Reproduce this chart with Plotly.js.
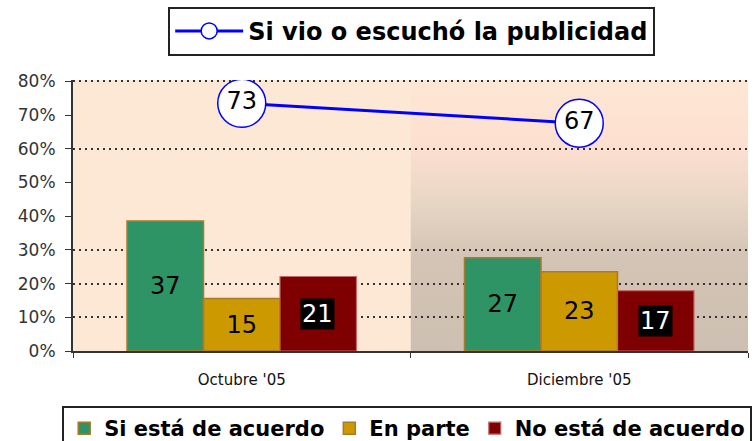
<!DOCTYPE html>
<html><head><meta charset="utf-8">
<script src="https://cdn.plot.ly/plotly-3.0.1.min.js"></script>
<style>html,body{margin:0;padding:0;background:#fff;}#chart{width:753px;height:441px;}</style>
</head><body><div id="chart"></div>
<script>
var categories = ["Octubre '05", "Diciembre '05"];
var siAcuerdo = [38.6, 27.7];
var siAcuerdoLabels = ["37", "27"];
var enParte = [15.6, 23.5];
var enParteLabels = ["15", "23"];
var noAcuerdo = [22.1, 17.9];
var noAcuerdoLabels = ["21", "17"];
var publicidad = [73.5, 67.6];
var publicidadLabels = ["73", "67"];
var gridVals = [10, 20, 30, 60, 80];
var yTicks = [0, 10, 20, 30, 40, 50, 60, 70, 80];
var yTickText = ["0%", "10%", "20%", "30%", "40%", "50%", "60%", "70%", "80%"];

var FONT = "DejaVu Sans, Verdana, sans-serif";
var barLine = {color: '#A87A2C', width: 1.5};
var YMAX = 80.4;

var traces = [
  {type: 'bar', name: 'Si está de acuerdo', x: categories, y: siAcuerdo, text: siAcuerdoLabels,
   textposition: 'inside', insidetextanchor: 'middle', constraintext: 'none',
   textfont: {family: FONT, size: 24, color: '#000'},
   marker: {color: '#2E9466', line: barLine}, legend: 'legend2', hoverinfo: 'none'},
  {type: 'bar', name: 'En parte', x: categories, y: enParte, text: enParteLabels,
   textposition: 'inside', insidetextanchor: 'middle', constraintext: 'none',
   textfont: {family: FONT, size: 24, color: '#000'},
   marker: {color: '#CC9900', line: barLine}, legend: 'legend2', hoverinfo: 'none'},
  {type: 'bar', name: 'No está de acuerdo', x: categories, y: noAcuerdo,
   marker: {color: '#7F0000', line: {color: '#C46A6A', width: 1.2}}, legend: 'legend2', hoverinfo: 'none'},
  {type: 'scatter', mode: 'lines+markers+text', name: 'Si vio o escuchó la publicidad',
   x: categories, y: publicidad, text: publicidadLabels, textposition: 'middle center',
   textfont: {family: FONT, size: 24, color: '#000'},
   line: {color: '#0000FF', width: 3},
   marker: {symbol: 'circle', size: 48, color: '#FFFFFF', line: {color: '#0000FF', width: 1.5}},
   yaxis: 'y2', legend: 'legend', hoverinfo: 'none'}
];

var annotations = [];
for (var i = 0; i < categories.length; i++) {
  annotations.push({x: categories[i], y: noAcuerdo[i] / 2, xref: 'x', yref: 'y', xshift: 76,
    text: noAcuerdoLabels[i], showarrow: false, bgcolor: '#000', borderpad: 1,
    font: {family: FONT, size: 24, color: '#FFF'}});
}

var gradSvg = '<svg xmlns="http://www.w3.org/2000/svg" width="100" height="100" preserveAspectRatio="none">' +
  '<defs><linearGradient id="g" x1="0" y1="0" x2="0" y2="1">' +
  '<stop offset="0" stop-color="#FDE7D5"/><stop offset="0.25" stop-color="#FDDFD0"/>' +
  '<stop offset="0.45" stop-color="#E8D6C4"/><stop offset="0.65" stop-color="#D3C4B5"/>' +
  '<stop offset="1" stop-color="#CDBFB1"/></linearGradient></defs>' +
  '<rect width="100" height="100" fill="url(#g)"/></svg>';

var layout = {
  width: 753, height: 441,
  margin: {l: 73, r: 5, t: 80, b: 90, autoexpand: false},
  paper_bgcolor: '#FFFFFF',
  plot_bgcolor: '#FDE8D5',
  barmode: 'group', bargap: 0.32, bargroupgap: 0,
  font: {family: FONT, color: '#222'},
  xaxis: {type: 'category', range: [-0.5, 1.5], tickson: 'boundaries', ticks: 'outside', ticklen: 5,
    tickcolor: '#333', showline: true, linecolor: '#333', linewidth: 2, showgrid: false,
    tickfont: {family: FONT, size: 15, color: '#111'}, ticklabelstandoff: 14, fixedrange: true},
  yaxis: {range: [0, YMAX], tickmode: 'array', tickvals: yTicks, ticktext: yTickText, ticks: 'outside', ticklen: 6,
    tickcolor: '#333', showline: true, linecolor: '#333', linewidth: 2, showgrid: false,
    zeroline: false, tickfont: {family: FONT, size: 17, color: '#333'}, ticklabelstandoff: 6},
  yaxis2: {range: [0, YMAX], overlaying: 'y', tickmode: 'array', tickvals: gridVals, showticklabels: false, ticks: '',
    showgrid: true, gridcolor: '#333', gridwidth: 2, griddash: '2px,4px', zeroline: false, showline: false},
  images: [{source: 'data:image/svg+xml;charset=utf-8,' + encodeURIComponent(gradSvg),
    xref: 'x', yref: 'y', x: 0.5, y: YMAX, sizex: 1, sizey: YMAX, sizing: 'stretch',
    xanchor: 'left', yanchor: 'top', layer: 'below'}],
  showlegend: true,
  legend: {x: 0.141, y: 1.27, xanchor: 'left', yanchor: 'top', orientation: 'h',
    bgcolor: '#FFFFFF', bordercolor: '#222', borderwidth: 2,
    font: {family: FONT, size: 24, color: '#000', weight: 'bold'}, itemwidth: 68},
  legend2: {x: -0.016, y: -0.203, xanchor: 'left', yanchor: 'top', orientation: 'h',
    bgcolor: '#FFFFFF', bordercolor: '#222', borderwidth: 2, tracegroupgap: 0,
    font: {family: FONT, size: 21, color: '#000', weight: 'bold'}, itemwidth: 30},
  annotations: annotations
};

Plotly.newPlot('chart', traces, layout, {displayModeBar: false, staticPlot: true});
</script></body></html>
